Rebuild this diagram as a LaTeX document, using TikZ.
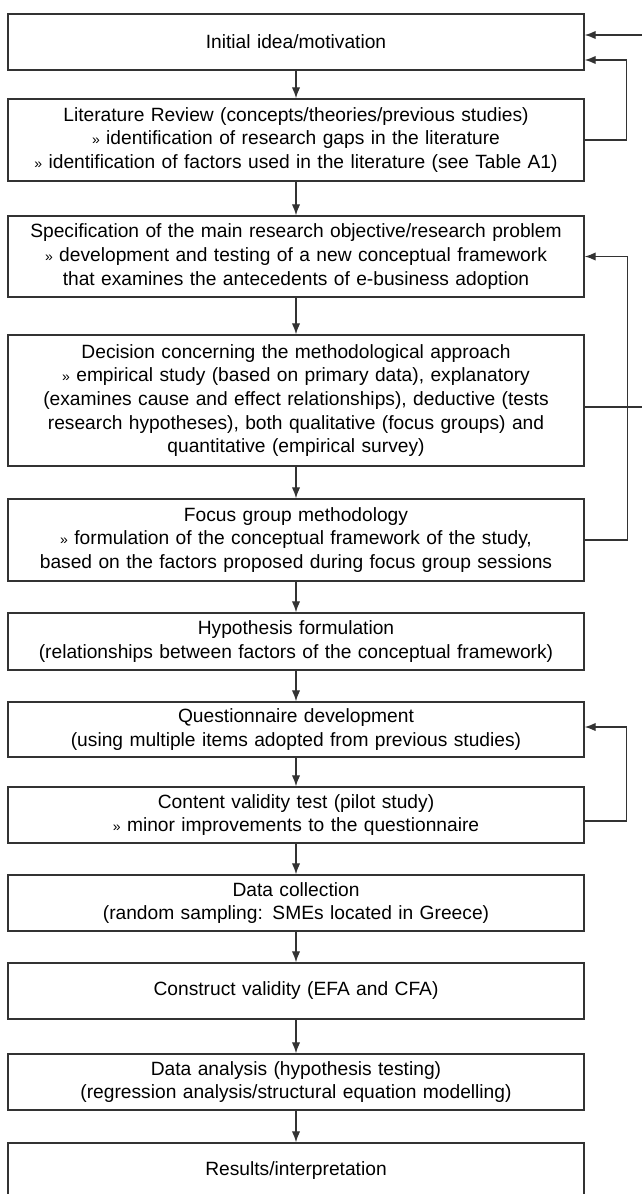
\documentclass[tikz,border=0pt]{standalone}
\usepackage{fontspec}
\setmainfont{Liberation Sans}
\usetikzlibrary{arrows.meta}
\newcommand{\bul}{{\fontsize{7}{7}\selectfont »}}

\begin{document}
\begin{tikzpicture}[x=0.5pt, y=-0.5pt,
	box/.style={draw=black!80, line width=0.7pt, minimum width=288pt, text width=284pt, align=center, inner sep=0pt},
	flow/.style={draw=black!80, line width=0.65pt, -{Latex[length=5.5pt,width=4.2pt]}}]
\fontsize{9.6}{11.8}\selectfont
	\useasboundingbox (0,0) rectangle (642,1194);
	\clip (0,0) rectangle (642,1194);
	%\draw[red] (0,0) rectangle (642,1194);
	\node[box, minimum height=28pt] (idea) at (296,42) {Initial idea/motivation};
	\node[box, minimum height=41pt] (litrev) at (296,140) {Literature Review (concepts/theories/previous studies)\\ \bul{} identification of research gaps in the literature\\ \bul{} identification of factors used in the literature (see Table A1)};
	\node[box, minimum height=40.5pt] (spec) at (296,256.5) {Specification of the main research objective/research problem\\ \bul{} development and testing of a new conceptual framework\\ that examines the antecedents of e-business adoption};
	\node[box, minimum height=65.5pt] (method) at (296,400.5) {Decision concerning the methodological approach\\ \bul{} empirical study (based on primary data), explanatory\\ (examines cause and effect relationships), deductive (tests\\ research hypotheses), both qualitative (focus groups) and\\ quantitative (empirical survey)};
	\node[box, minimum height=41pt] (focus) at (296,540) {Focus group methodology\\ \bul{} formulation of the conceptual framework of the study,\\ based on the factors proposed during focus group sessions};
	\node[box, minimum height=28.5pt] (hypo) at (296,641.5) {Hypothesis formulation\\ (relationships between factors of the conceptual framework)};
	\node[box, minimum height=27.5pt] (quest) at (296,729.5) {Questionnaire development\\ (using multiple items adopted from previous studies)};
	\node[box, minimum height=28pt] (pilot) at (296,815) {Content validity test (pilot study)\\ \bul{} minor improvements to the questionnaire};
	\node[box, minimum height=28pt] (collect) at (296,903) {Data collection\\ (random sampling: SMEs located in Greece)};
	\node[box, minimum height=28pt] (construct) at (296,991) {Construct validity (EFA and CFA)};
	\node[box, minimum height=28pt] (analysis) at (296,1082) {Data analysis (hypothesis testing)\\ (regression analysis/structural equation modelling)};
	\node[box, minimum height=28pt] (results) at (296,1171) {Results/interpretation};
	% main flow
	\foreach \a/\b in {idea/litrev, litrev/spec, spec/method, method/focus, focus/hypo, hypo/quest, quest/pilot, pilot/collect, collect/construct, construct/analysis, analysis/results}
		\draw[flow] (\a) -- (\b);
	% loops back
	\draw[flow] (litrev.east) -- ++(42,0) |- ([yshift=-9pt]idea.east);
	\draw[flow] ([yshift=-3.25pt]method.east) -- ++(70,0) |- ([yshift=3.5pt]idea.east);
	\draw[flow] (focus.east) -- ++(43,0) |- (spec.east);
	\draw[flow] ([yshift=-3pt]pilot.east) -- ++(42,0) |- ([yshift=1.25pt]quest.east);
\end{tikzpicture}
\end{document}
